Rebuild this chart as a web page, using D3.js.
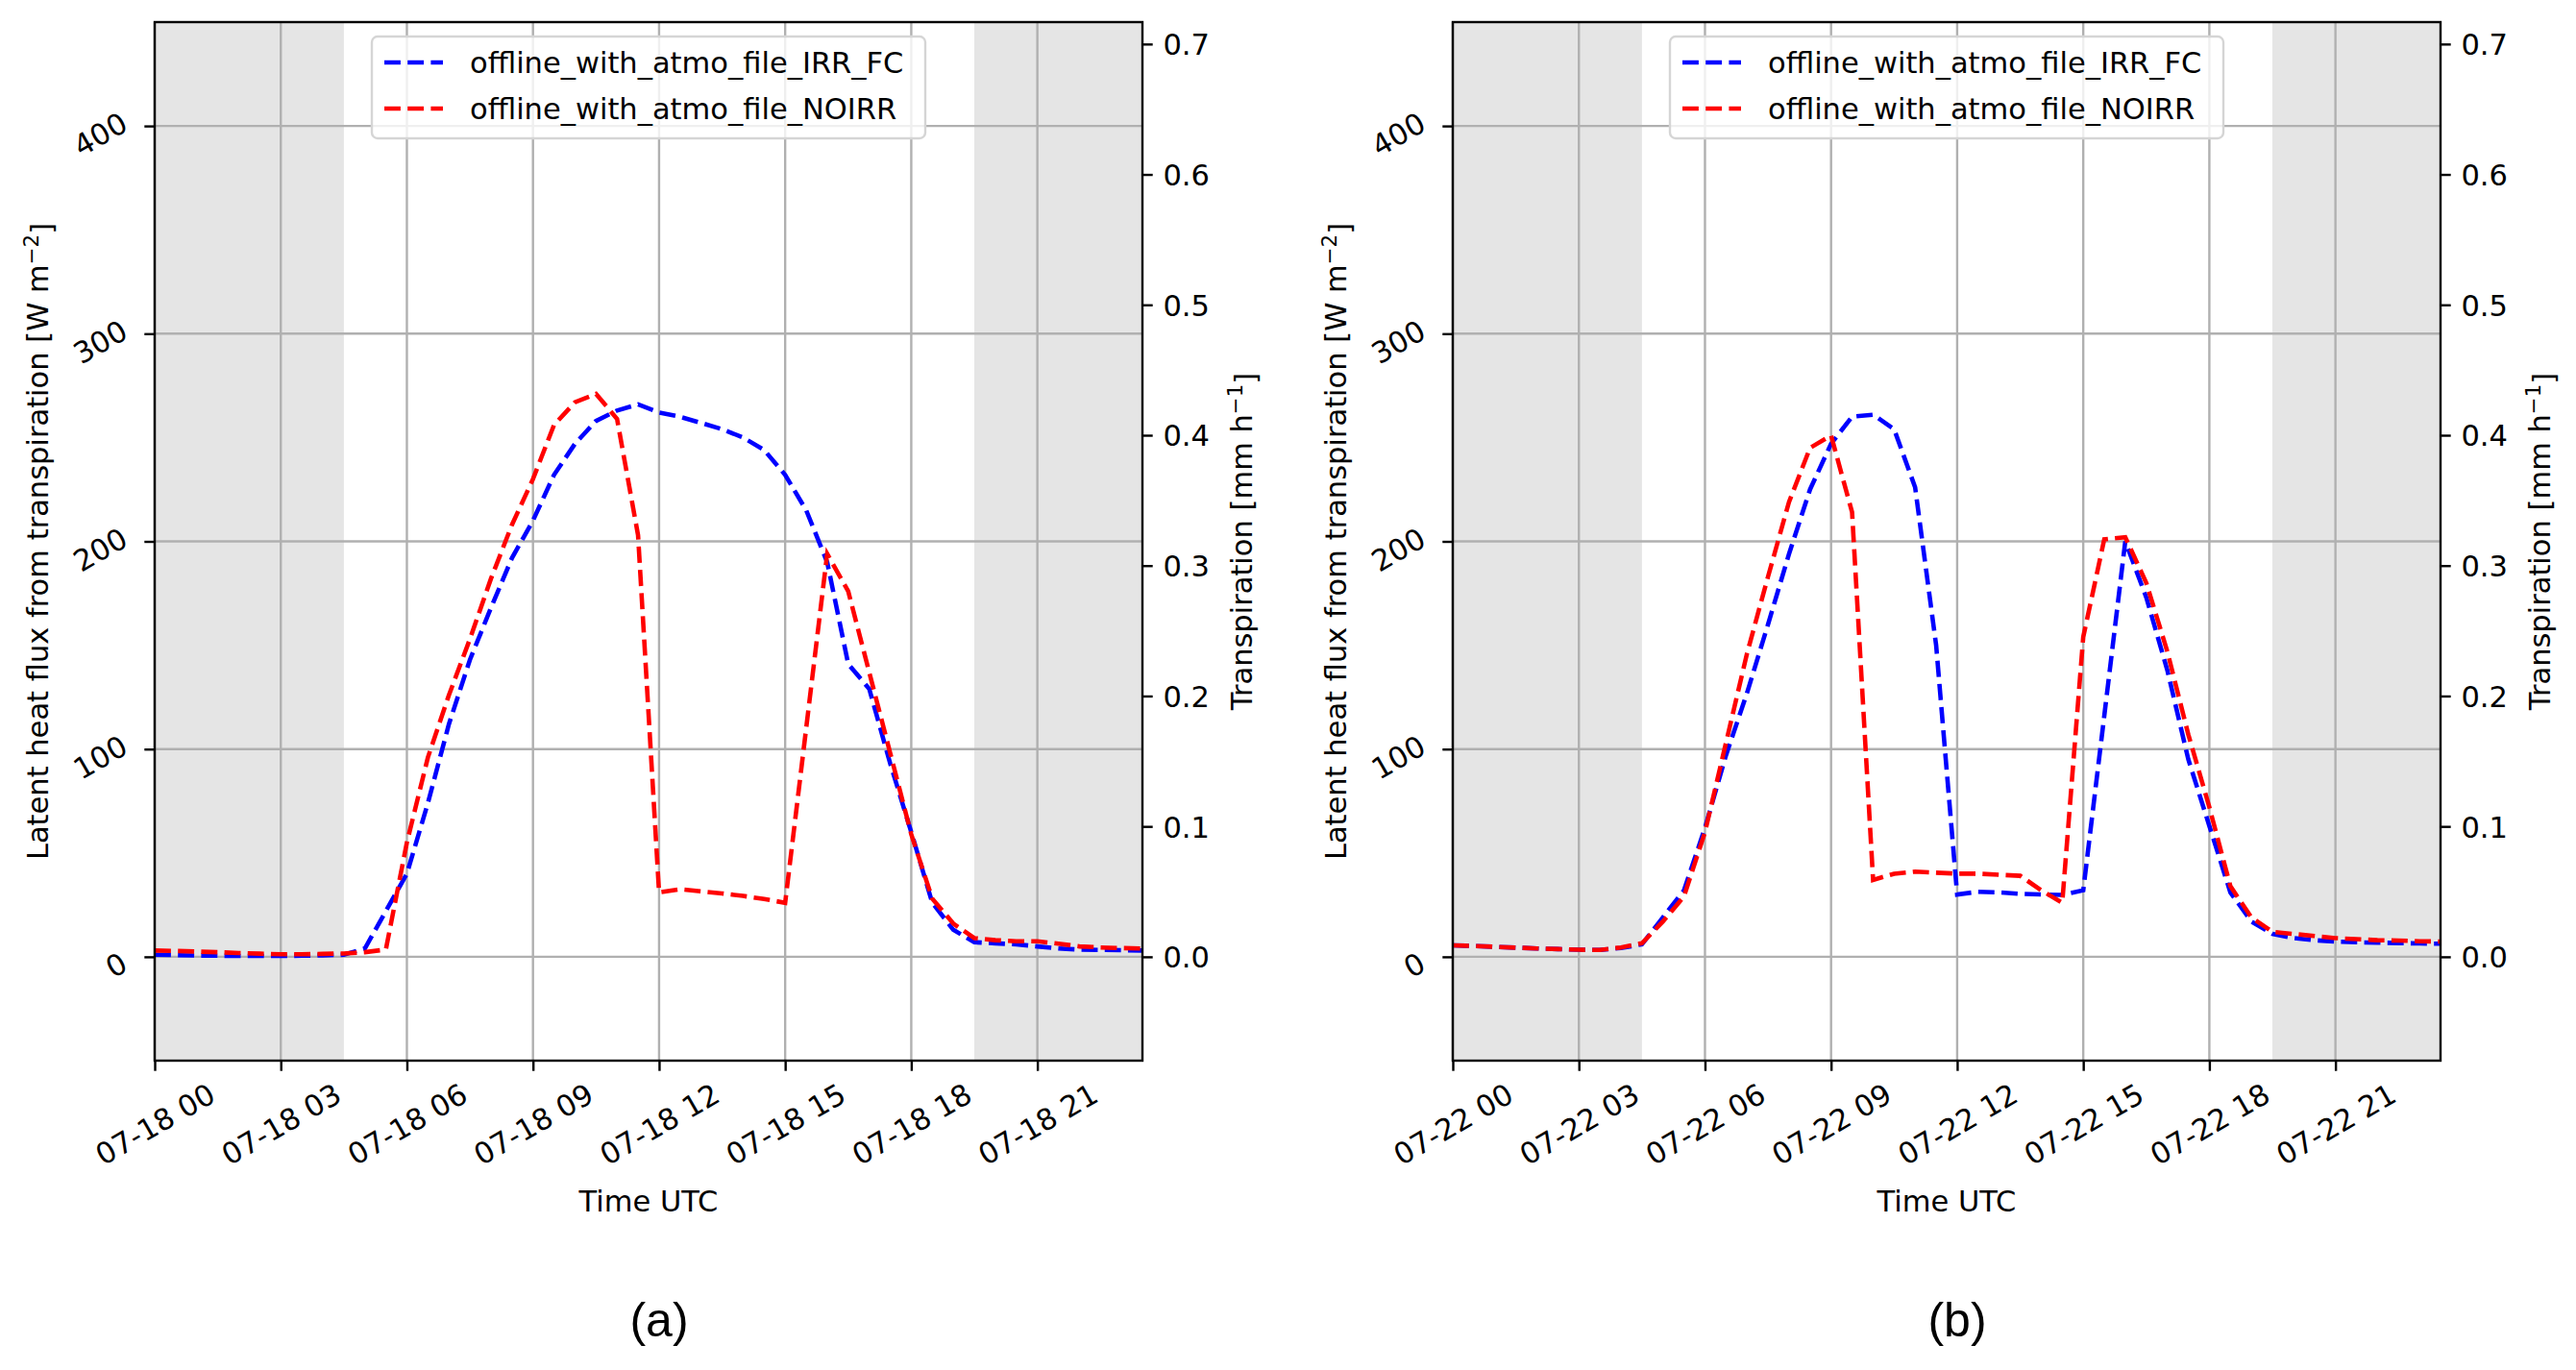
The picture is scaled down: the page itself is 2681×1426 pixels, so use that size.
<!DOCTYPE html>
<html>
<head>
<meta charset="utf-8">
<script src="https://cdn.jsdelivr.net/npm/d3@7"></script>
<style>
  body { margin: 0; background: #fff; }
  text { font-family: "DejaVu Sans", sans-serif; fill: #000; }
</style>
</head>
<body>
<div class="c-chart"></div>
<script>
// half-hourly time steps, hours after 00 UTC
var halfHours = d3.range(0, 24, 0.5);

// latent heat flux from transpiration [W m-2], panel (a) 07-18
var irrA = [1.0, 0.8, 0.6, 0.5, 0.4, 0.4, 0.4, 0.5, 0.7, 1.0, 4, 22,
            40, 74, 112, 143, 168, 192, 210, 232, 247, 258, 263, 266,
            262, 260, 257, 254, 250, 244, 232, 215, 190, 141, 129, 93,
            60, 26, 13, 7, 6.5, 6, 5, 4, 3.5, 3.3, 3.2, 3.0];
var noirrA = [3.0, 2.8, 2.5, 2.2, 1.8, 1.5, 1.2, 1.2, 1.4, 1.6, 2.2, 3.5,
              55, 96, 126, 153, 182, 208, 230, 256, 267, 271, 259, 203,
              31, 32.5, 31.5, 30.5, 29.3, 27.8, 26, 110, 194, 176, 137, 98,
              59, 28, 16, 9, 8, 7.5, 7.5, 6.3, 5, 4.5, 4.2, 4.0];

// panel (b) 07-22
var irrB = [5.5, 5.2, 4.8, 4.4, 4.0, 3.7, 3.4, 3.3, 4.2, 6, 19, 32,
            62, 97, 127, 160, 194, 225, 247, 260, 261, 254, 226, 150,
            30, 31.3, 31, 30.3, 30, 29.8, 32, 116, 200, 173, 138, 95,
            63, 31, 17, 11, 9, 8, 7.3, 7, 6.8, 6.6, 6.4, 6.3];
var noirrB = [5.5, 5.2, 4.8, 4.4, 4.0, 3.7, 3.4, 3.3, 4.5, 6.5, 17, 29,
              60, 103, 146, 183, 219, 245, 251, 214, 37, 40, 41, 40.5,
              40, 40, 39.5, 39, 32, 26, 154, 201, 202, 180, 147, 107,
              72, 34, 19, 12, 11, 10, 9, 8.5, 8, 7.8, 7.5, 7.3];

var seriesNames = ['offline_with_atmo_file_IRR_FC', 'offline_with_atmo_file_NOIRR'];
var seriesColors = ['#0000ff', '#ff0000'];

var xTickHours = [0, 3, 6, 9, 12, 15, 18, 21];
var yTicks = [0, 100, 200, 300, 400];
var y2Ticks = [0.0, 0.1, 0.2, 0.3, 0.4, 0.5, 0.6, 0.7];
var yDomain = [-50, 450];
var nightSpans = [[0, 4.5], [19.5, 23.5]];
var lvFactor = 2.26e6 / 3600; // W m-2 per mm h-1

var panels = [
  {day: '2019-07-18T00:00:00Z', irr: irrA, noirr: noirrA, tag: '(a)', left: 161},
  {day: '2019-07-22T00:00:00Z', irr: irrB, noirr: noirrB, tag: '(b)', left: 1512}
];

var TranspirationChart = function() {
  var fs = 30.5,
      marginTop = 23,
      width = 1028,
      height = 1081,
      tickLen = 10.7;

  var svg = d3.select('.c-chart')
    .append('svg')
    .attr('width', 2681)
    .attr('height', 1426);

  panels.forEach(function(p, idx) {
    var t0 = new Date(p.day);
    var at = function(hr) { return new Date(t0.getTime() + hr * 3600e3); };

    var x = d3.scaleUtc().domain([at(0), at(23.5)]).range([0, width]);
    var y = d3.scaleLinear().domain(yDomain).range([height, 0]);
    var y2 = d3.scaleLinear().domain(yDomain.map(function(v) { return v / lvFactor; })).range([height, 0]);

    var g = svg.append('g')
      .attr('transform', 'translate(' + p.left + ',' + marginTop + ')');

    g.append('clipPath').attr('id', 'clip' + idx)
      .append('rect').attr('width', width).attr('height', height);

    // night shading
    g.selectAll('.night').data(nightSpans).enter().append('rect')
      .attr('x', function(d) { return x(at(d[0])); })
      .attr('width', function(d) { return x(at(d[1])) - x(at(d[0])); })
      .attr('y', 0).attr('height', height)
      .attr('fill', '#e5e5e5');

    // grid
    g.selectAll('.gx').data(xTickHours).enter().append('line')
      .attr('x1', function(d) { return x(at(d)); })
      .attr('x2', function(d) { return x(at(d)); })
      .attr('y1', 0).attr('y2', height)
      .attr('stroke', '#b0b0b0').attr('stroke-width', 2.4);
    g.selectAll('.gy').data(yTicks).enter().append('line')
      .attr('x1', 0).attr('x2', width)
      .attr('y1', function(d) { return y(d); })
      .attr('y2', function(d) { return y(d); })
      .attr('stroke', '#b0b0b0').attr('stroke-width', 2.4);

    // lines
    var line = d3.line()
      .x(function(d, i) { return x(at(halfHours[i])); })
      .y(function(d) { return y(d); });
    [p.irr, p.noirr].forEach(function(vals, k) {
      g.append('path')
        .datum(vals)
        .attr('clip-path', 'url(#clip' + idx + ')')
        .attr('d', line)
        .attr('fill', 'none')
        .attr('stroke', seriesColors[k])
        .attr('stroke-width', 4.6)
        .attr('stroke-dasharray', '16.9,7.3');
    });

    // x axis
    var xAxis = g.append('g')
      .attr('transform', 'translate(0,' + height + ')')
      .call(d3.axisBottom(x)
        .tickValues(xTickHours.map(at))
        .tickFormat(d3.utcFormat('%m-%d %H'))
        .tickSize(tickLen).tickSizeOuter(0));
    xAxis.select('.domain').remove();
    xAxis.selectAll('line').attr('stroke', '#000').attr('stroke-width', 2.4);
    xAxis.selectAll('text')
      .attr('font-size', fs)
      .attr('font-family', 'DejaVu Sans')
      .attr('y', 0).attr('dy', '0.36em')
      .attr('text-anchor', 'middle')
      .attr('transform', 'translate(0,66) rotate(-30)');

    // left axis
    var yAxis = g.append('g')
      .call(d3.axisLeft(y).tickValues(yTicks).tickSize(tickLen).tickSizeOuter(0));
    yAxis.select('.domain').remove();
    yAxis.selectAll('line').attr('stroke', '#000').attr('stroke-width', 2.4);
    yAxis.selectAll('text')
      .attr('font-size', fs)
      .attr('font-family', 'DejaVu Sans')
      .attr('x', 0).attr('dy', '0.36em')
      .attr('text-anchor', 'middle')
      .attr('transform', function(d) {
        var w = String(d).length * 0.636 * fs;
        var halfW = (w * 0.866 + 0.73 * fs * 0.5) / 2;
        return 'translate(' + (-26 - halfW) + ',8) rotate(-30)';
      });

    // right axis
    var y2Axis = g.append('g')
      .attr('transform', 'translate(' + width + ',0)')
      .call(d3.axisRight(y2).tickValues(y2Ticks).tickFormat(d3.format('.1f'))
        .tickSize(tickLen).tickPadding(tickLen).tickSizeOuter(0));
    y2Axis.select('.domain').remove();
    y2Axis.selectAll('line').attr('stroke', '#000').attr('stroke-width', 2.4);
    y2Axis.selectAll('text')
      .attr('font-size', fs)
      .attr('font-family', 'DejaVu Sans')
      .attr('dy', '0.36em');

    // frame
    g.append('rect')
      .attr('width', width).attr('height', height)
      .attr('fill', 'none').attr('stroke', '#000').attr('stroke-width', 2.4);

    // legend
    var lg = g.append('g').attr('transform', 'translate(' + (width / 2 - 288) + ',15)');
    lg.append('rect')
      .attr('width', 576).attr('height', 106).attr('rx', 6)
      .attr('fill', '#fff').attr('fill-opacity', 0.8)
      .attr('stroke', '#d5d5d5').attr('stroke-width', 2.4);
    seriesNames.forEach(function(name, k) {
      var cy = 27 + k * 48;
      lg.append('line')
        .attr('x1', 13).attr('x2', 74).attr('y1', cy).attr('y2', cy)
        .attr('stroke', seriesColors[k]).attr('stroke-width', 4.6)
        .attr('stroke-dasharray', '16.9,7.3');
      lg.append('text')
        .attr('x', 102).attr('y', cy).attr('dy', '0.36em')
        .attr('font-size', fs)
        .text(name);
    });

    // axis labels
    g.append('text')
      .attr('x', width / 2).attr('y', 1238)
      .attr('text-anchor', 'middle').attr('font-size', fs)
      .text('Time UTC');

    var yl = g.append('text')
      .attr('transform', 'translate(-111,' + (height / 2) + ') rotate(-90)')
      .attr('text-anchor', 'middle').attr('font-size', fs);
    yl.append('tspan').text('Latent heat flux from transpiration [W m');
    yl.append('tspan').attr('dy', '-0.45em').attr('font-size', fs * 0.7).text('\u22122');
    yl.append('tspan').attr('dy', '0.45em').text(']');

    var yr = g.append('text')
      .attr('transform', 'translate(1142,' + (height / 2) + ') rotate(-90)')
      .attr('text-anchor', 'middle').attr('font-size', fs);
    yr.append('tspan').text('Transpiration [mm h');
    yr.append('tspan').attr('dy', '-0.45em').attr('font-size', fs * 0.7).text('\u22121');
    yr.append('tspan').attr('dy', '0.45em').text(']');

    g.append('text')
      .attr('x', 525).attr('y', 1368)
      .attr('text-anchor', 'middle')
      .style('font-family', '"Liberation Sans", Arial, sans-serif')
      .attr('font-size', 50)
      .text(p.tag);
  });
};

TranspirationChart();
</script>
</body>
</html>
